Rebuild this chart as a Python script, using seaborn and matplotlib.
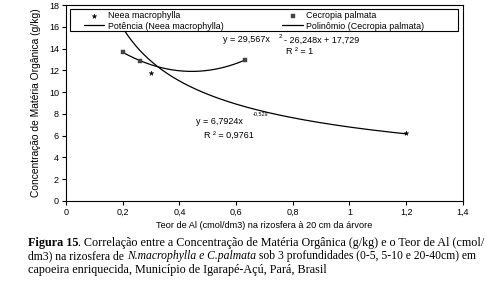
import numpy as np
import pandas as pd
import matplotlib.pyplot as plt
import seaborn as sns
from matplotlib.ticker import FuncFormatter
from matplotlib.patches import Rectangle

# data
neea_x = [0.2, 0.3, 1.2]
neea_y = [16.0, 11.8, 6.2]
cecropia_x = [0.2, 0.26, 0.63]
cecropia_y = [13.66, 12.9, 12.93]

# trendline coefficients printed on the chart
power_coef = [6.7924, -0.529]
poly_coef = [29.567, -26.248, 17.729]

sns.set_style("white")
plt.rcParams['font.family'] = ['Liberation Sans', 'DejaVu Sans']
plt.rcParams['text.color'] = 'black'
plt.rcParams['axes.labelcolor'] = 'black'
plt.rcParams['xtick.color'] = 'black'
plt.rcParams['ytick.color'] = 'black'

fig = plt.figure(figsize=(4.87, 2.84), dpi=100)
ax = fig.add_axes([0.1355, 0.2923, 0.815, 0.69])

xp = np.linspace(min(neea_x), max(neea_x), 200)
power_df = pd.DataFrame({"x": xp, "y": power_coef[0] * xp ** power_coef[1]})
xq = np.linspace(min(cecropia_x), max(cecropia_x), 200)
poly_df = pd.DataFrame({"x": xq, "y": np.polyval(poly_coef, xq)})

sns.lineplot(data=power_df, x="x", y="y", ax=ax, color="black", lw=0.9,
             label="Potência (Neea macrophylla)")
sns.lineplot(data=poly_df, x="x", y="y", ax=ax, color="black", lw=0.9,
             label="Polinômio (Cecropia palmata)")
sns.scatterplot(x=neea_x, y=neea_y, ax=ax, marker="*", s=12, color="black",
                edgecolor="black", linewidth=0.3, label="Neea macrophylla", zorder=3)
sns.scatterplot(x=cecropia_x, y=cecropia_y, ax=ax, marker="s", s=7, color="#444444",
                edgecolor="#444444", linewidth=0.3, label="Cecropia palmata", zorder=3)

h, l = ax.get_legend_handles_labels()
ax.get_legend().remove()

ax.set_xlim(0, 1.4)
ax.set_ylim(0, 18)
ax.set_xticks(np.arange(0, 1.41, 0.2))
ax.set_yticks(np.arange(0, 19, 2))
fmt = FuncFormatter(lambda v, p: ("%g" % round(v, 2)).replace(".", ","))
ax.xaxis.set_major_formatter(fmt)
ax.yaxis.set_major_formatter(fmt)
ax.tick_params(axis="both", labelsize=6.5, length=3, width=0.8, direction="out",
               bottom=True, left=True, pad=2)
for s in ax.spines.values():
    s.set_color("black")
    s.set_linewidth(0.8)

ax.set_xlabel("Teor de Al (cmol/dm3) na rizosfera à 20 cm da árvore", fontsize=6.6, labelpad=3)
ax.set_ylabel("Concentração de Matéria Orgânica (g/kg)", fontsize=7.4, labelpad=6)

# legend frame drawn separately (Excel style wide box)
fig.patches.append(Rectangle((70 / 487, 1 - 31 / 284), 388 / 487, 22 / 284,
                             transform=fig.transFigure, facecolor="white",
                             edgecolor="black", lw=0.8, zorder=4))

order = [l.index("Neea macrophylla"), l.index("Potência (Neea macrophylla)"),
         l.index("Cecropia palmata"), l.index("Polinômio (Cecropia palmata)")]
leg = fig.legend([h[i] for i in order], [l[i] for i in order], ncol=2,
                 loc="upper left", bbox_to_anchor=(84 / 487, 1 - 11.5 / 284),
                 fontsize=6.4, frameon=False, labelspacing=0.12, borderpad=0,
                 handlelength=2.3, handletextpad=0.4, columnspacing=6.6, borderaxespad=0)
leg.set_zorder(5)

tx = dict(fontsize=6.5, transform=fig.transFigure, ha="left", va="center")
fig.text(223 / 487, 1 - 40 / 284, "y = 29,567x", **tx)
fig.text(279 / 487, 1 - 36 / 284, "2", fontsize=4.5, transform=fig.transFigure, va="center")
fig.text(284 / 487, 1 - 40 / 284, "- 26,248x + 17,729", **tx)
fig.text(286 / 487, 1 - 52 / 284, "R ² = 1", **tx)
fig.text(196 / 487, 1 - 121 / 284, "y = 6,7924x", **tx)
fig.text(253 / 487, 1 - 114 / 284, "-0,529", fontsize=4.0, transform=fig.transFigure, va="center")
fig.text(204 / 487, 1 - 135 / 284, "R ² = 0,9761", **tx)

# caption with mixed bold / italic runs
def runs(y, parts, size=8.7, x0=28 / 487):
    fig.canvas.draw()
    r = fig.canvas.get_renderer()
    x = x0
    for txt, kw in parts:
        t = fig.text(x, y, txt, fontsize=size, family="Liberation Serif",
                     transform=fig.transFigure, va="center", **kw)
        bb = t.get_window_extent(renderer=r)
        x += bb.width / fig.bbox.width

runs(1 - 243 / 284, [("Figura 15", {"weight": "bold"}),
                     (". Correlação entre a Concentração de Matéria Orgânica (g/kg) e o Teor de Al (cmol/", {})])
runs(1 - 256.5 / 284, [("dm3) na rizosfera de ", {}), ("N.macrophylla e C.palmata", {"style": "italic"}),
                       (" sob 3 profundidades (0-5, 5-10 e 20-40cm) em", {})], size=8.4)
runs(1 - 270 / 284, [("capoeira enriquecida, Município de Igarapé-Açú, Pará, Brasil", {})])

fig.savefig("out.png", dpi=100)
